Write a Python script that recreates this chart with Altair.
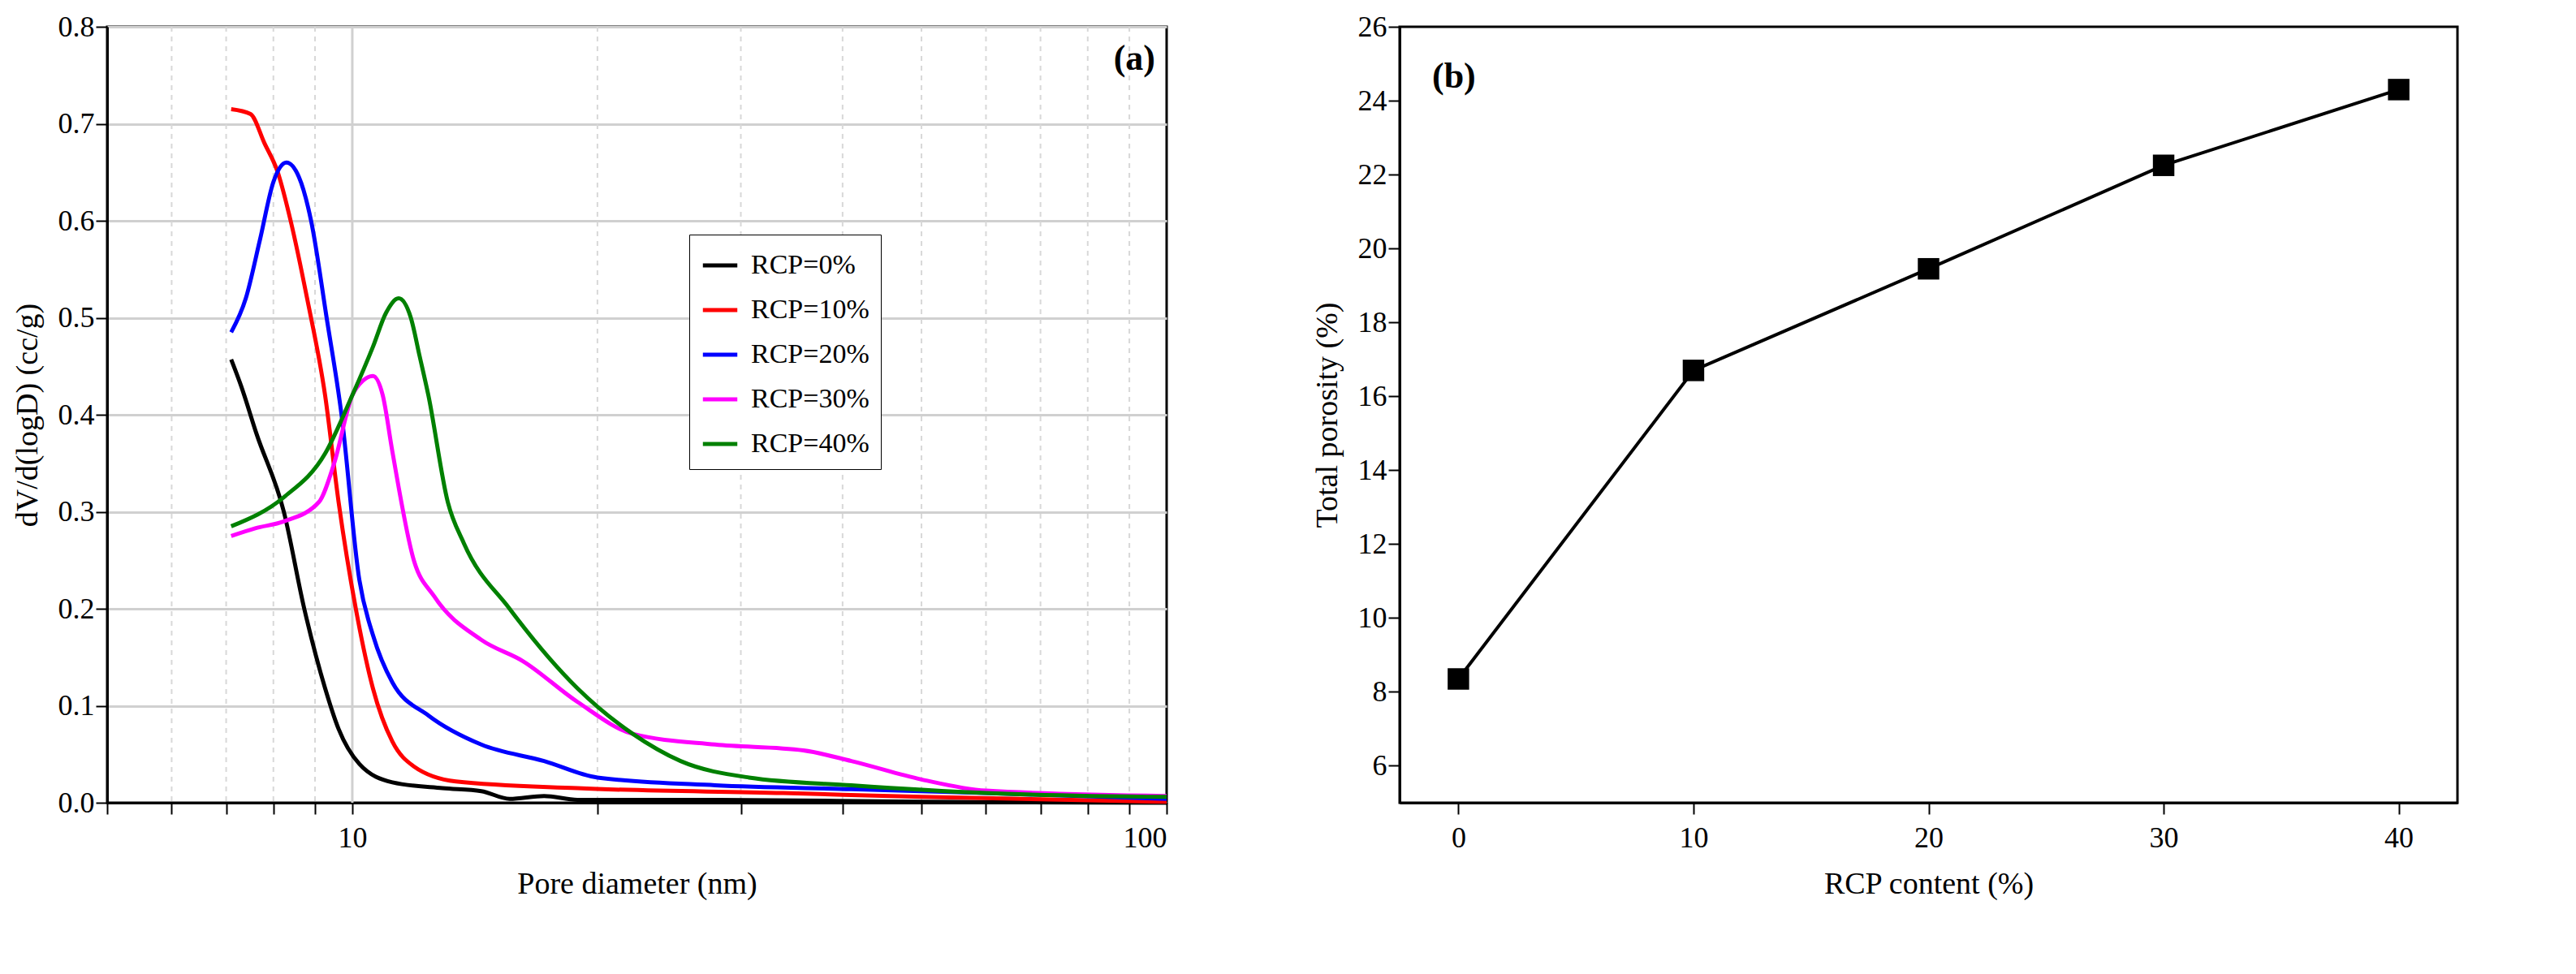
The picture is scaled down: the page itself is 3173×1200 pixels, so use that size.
import altair as alt
import pandas as pd

# ---- panel (a) data ----
black_x = [7.1, 7.3, 7.63, 8.24, 8.73, 9.26, 9.62, 10.2, 11.2, 12.9, 14.4, 15.6, 17.2, 18.9, 28, 50, 100]
black_y = [0.457, 0.43, 0.38, 0.30, 0.20, 0.118, 0.076, 0.04, 0.021, 0.015, 0.012, 0.004, 0.007, 0.003, 0.003, 0.001, 0.0]
red_x = [7.1, 7.5, 7.8, 8.1, 8.4, 8.8, 9.26, 9.62, 10.1, 10.6, 11.2, 11.9, 13.4, 18.9, 33.8, 50, 100]
red_y = [0.715, 0.71, 0.68, 0.65, 0.60, 0.52, 0.42, 0.31, 0.20, 0.118, 0.063, 0.0375, 0.022, 0.015, 0.01, 0.006, 0.001]
blue_x = [7.1, 7.4, 7.7, 8.0, 8.3, 8.6, 8.9, 9.3, 9.7, 10.2, 10.6, 11.2, 12.4, 14.4, 17.2, 20, 27.9, 41, 60, 100]
blue_y = [0.485, 0.52, 0.58, 0.64, 0.66, 0.645, 0.60, 0.50, 0.40, 0.23, 0.173, 0.124, 0.09, 0.06, 0.043, 0.026, 0.018, 0.014, 0.01, 0.004]
mag_x = [7.1, 7.6, 8.24, 9.1, 9.5, 10.0, 10.3, 10.6, 10.9, 11.2, 11.9, 12.6, 14.4, 16.2, 18.9, 22.1, 27.9, 35.8, 41, 50, 60, 100]
mag_y = [0.275, 0.283, 0.29, 0.31, 0.35, 0.42, 0.435, 0.44, 0.42, 0.362, 0.25, 0.213, 0.168, 0.146, 0.104, 0.071, 0.06, 0.054, 0.043, 0.024, 0.0125, 0.007]
green_x = [7.1, 8.24, 9.26, 10.0, 10.6, 11.0, 11.4, 11.8, 12.1, 12.4, 13.1, 13.7, 15.6, 18.9, 22.1, 25.3, 30.7, 41, 60, 100]
green_y = [0.285, 0.315, 0.36, 0.42, 0.47, 0.505, 0.52, 0.50, 0.46, 0.42, 0.31, 0.268, 0.20, 0.118, 0.071, 0.043, 0.026, 0.018, 0.01, 0.006]

series_names = ["RCP=0%", "RCP=10%", "RCP=20%", "RCP=30%", "RCP=40%"]
series_colors = ["#000000", "#ff0000", "#0000ff", "#ff00ff", "#008000"]
minor_grid = [6, 7, 8, 9, 20, 30, 40, 50, 60, 70, 80, 90]
major_grid = [10]
x_ticks = [5, 6, 7, 8, 9, 10, 20, 30, 40, 50, 60, 70, 80, 90, 100]

# ---- panel (b) data ----
rcp = [0, 10, 20, 30, 40]
porosity = [8.35, 16.7, 19.45, 22.25, 24.3]

FONT = "Liberation Serif"
rows = []
for name, xs, ys in zip(series_names, [black_x, red_x, blue_x, mag_x, green_x],
                        [black_y, red_y, blue_y, mag_y, green_y]):
    for i, (x, y) in enumerate(zip(xs, ys)):
        rows.append({"series": name, "d": x, "v": y, "order": i})
df = pd.DataFrame(rows)

W, H = 1305, 956
xscale = alt.Scale(type="log", domain=[5, 100], nice=False)

xaxis = alt.Axis(values=x_ticks, labelExpr="datum.value==10 || datum.value==100 ? datum.value : ''",
                 grid=False, title="Pore diameter (nm)", tickSize=14, tickWidth=2,
                 labelPadding=12, titlePadding=20)
yaxis = alt.Axis(values=[0, 0.1, 0.2, 0.3, 0.4, 0.5, 0.6, 0.7, 0.8], format=".1f", grid=True,
                 gridColor="#d0d0d0", gridWidth=3, title="dV/d(logD) (cc/g)", tickSize=14,
                 tickWidth=2, titlePadding=18)

minor = alt.Chart(pd.DataFrame({"g": minor_grid})).mark_rule(
    color="#d8d8d8", strokeDash=[6, 6], strokeWidth=2).encode(x=alt.X("g:Q", scale=xscale))
major = alt.Chart(pd.DataFrame({"g": major_grid})).mark_rule(
    color="#d0d0d0", strokeWidth=3).encode(x=alt.X("g:Q", scale=xscale))

lines = alt.Chart(df).mark_line(strokeWidth=5, interpolate="monotone").encode(
    x=alt.X("d:Q", scale=xscale, axis=xaxis),
    y=alt.Y("v:Q", scale=alt.Scale(domain=[0, 0.8], nice=False), axis=yaxis),
    color=alt.Color("series:N", sort=series_names,
                    scale=alt.Scale(domain=series_names, range=series_colors),
                    legend=alt.Legend(title=None, orient="none", legendX=717, legendY=256,
                                      symbolType="stroke", symbolStrokeWidth=5, symbolSize=1800,
                                      labelFontSize=34, labelFont=FONT, strokeColor="black",
                                      fillColor="white", padding=14, rowPadding=14,
                                      labelOffset=14)),
    order="order:Q",
)
label_a = alt.Chart(pd.DataFrame({"t": ["(a)"]})).mark_text(
    font=FONT, fontSize=44, fontWeight="bold", align="right", baseline="top").encode(
    text="t:N", x=alt.value(W - 14), y=alt.value(18))

panel_a = alt.layer(minor, major, lines, label_a).properties(width=W, height=H)

dfb = pd.DataFrame({"rcp": rcp, "p": porosity})
bx = alt.X("rcp:Q", scale=alt.Scale(domain=[-2.5, 42.5], nice=False),
           axis=alt.Axis(values=[0, 10, 20, 30, 40], grid=False, title="RCP content (%)",
                         tickSize=14, tickWidth=2, labelPadding=12, titlePadding=20))
by = alt.Y("p:Q", scale=alt.Scale(domain=[5, 26], nice=False),
           axis=alt.Axis(values=list(range(6, 27, 2)), grid=False, title="Total porosity (%)",
                         tickSize=14, tickWidth=2, titlePadding=18))
line_b = alt.Chart(dfb).mark_line(color="black", strokeWidth=4).encode(x=bx, y=by)
pts_b = alt.Chart(dfb).mark_square(color="black", size=700, opacity=1).encode(x=bx, y=by)
label_b = alt.Chart(pd.DataFrame({"t": ["(b)"]})).mark_text(
    font=FONT, fontSize=44, fontWeight="bold", align="left", baseline="top").encode(
    text="t:N", x=alt.value(40), y=alt.value(40))
panel_b = alt.layer(line_b, pts_b, label_b).properties(width=1303, height=H)

chart = alt.hconcat(panel_a, panel_b, spacing=165).properties(
    background="white").configure_view(
    stroke="black", strokeWidth=3).configure_axis(
    labelFont=FONT, titleFont=FONT, labelFontSize=36, titleFontSize=38,
    titleFontWeight="normal", labelColor="black", titleColor="black",
    domainColor="black", tickColor="black", domainWidth=3)

chart.save("out.html", embed_options={"renderer": "svg", "actions": False})
